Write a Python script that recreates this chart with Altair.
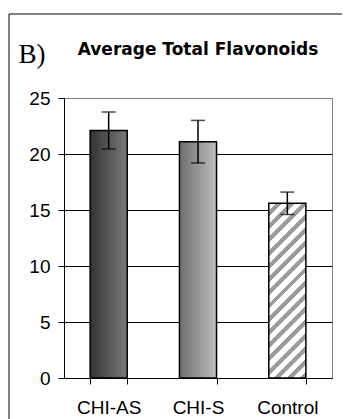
import altair as alt
import pandas as pd

# ---- data ----
categories = ["CHI-AS", "CHI-S", "Control"]
means = [22.1, 21.1, 15.6]
errors = [1.65, 1.9, 1.0]
y_ticks = [0, 5, 10, 15, 20, 25]
title_text = ["Average Total Flavonoids"]
panel_label = ["B)"]

df = pd.DataFrame({"cat": categories, "mean": means, "err": errors})
df["lo"] = df["mean"] - df["err"]
df["hi"] = df["mean"] + df["err"]

# ---- layout / style ----
W, H = 268, 280
Y_MAX = 25
PAD_INNER = 0.585
FONT = "Liberation Sans"

grad_dark = {"gradient": "linear", "x1": 0, "y1": 0, "x2": 1, "y2": 0,
             "stops": [{"offset": 0, "color": "#333333"}, {"offset": 1, "color": "#7a7a7a"}]}
grad_light = {"gradient": "linear", "x1": 0, "y1": 0, "x2": 1, "y2": 0,
              "stops": [{"offset": 0, "color": "#6e6e6e"}, {"offset": 1, "color": "#bdbdbd"}]}

# diagonal hatch built as a striped gradient (stripes at 45 degrees on screen)
bw = W / 3 * (1 - PAD_INNER)
bh = means[2] / Y_MAX * H
r = bw / bh
k = (bw + bh) / (bh * (1 + r * r))
period = 13.0
n = max(1, round((bw + bh) / period))
stops = []
for i in range(n):
    a = i / n
    m = (i + 0.55) / n
    b = (i + 1) / n
    stops += [{"offset": a, "color": "#ffffff"}, {"offset": m, "color": "#ffffff"},
              {"offset": m, "color": "#9c9c9c"}, {"offset": b, "color": "#9c9c9c"}]
grad_hatch = {"gradient": "linear", "x1": 0, "y1": 0, "x2": r * k, "y2": k, "stops": stops}

x_enc = alt.X("cat:N", sort=categories,
              scale=alt.Scale(paddingInner=PAD_INNER, paddingOuter=PAD_INNER / 2),
              axis=alt.Axis(title=None, labelAngle=0, tickBand="extent", tickSize=6,
                            labelPadding=14, labelFont=FONT, labelFontSize=19,
                            labelColor="black", domainColor="black", tickColor="black"))

y_axis = alt.Axis(title=None, values=y_ticks, tickSize=6, labelPadding=8,
                  labelFont=FONT, labelFontSize=19, labelColor="black",
                  domainColor="black", tickColor="black",
                  grid=True, gridWidth=1,
                  gridColor={"expr": "datum.value == 25 ? '#808080' : '#000000'"})
y_scale = alt.Scale(domain=[0, Y_MAX], nice=False)


def yenc(field):
    return alt.Y(f"{field}:Q", scale=y_scale, axis=y_axis)


base = alt.Chart(df)

bars = []
for cat, fill in zip(categories, [grad_dark, grad_light, grad_hatch]):
    bars.append(
        base.transform_filter(alt.datum.cat == cat)
        .mark_bar(fill=fill, stroke="black", strokeWidth=1.5)
        .encode(x=x_enc, y=yenc("mean"))
    )

err_rule = base.mark_rule(color="black", strokeWidth=1.5).encode(
    x=x_enc, y=yenc("lo"), y2="hi")
cap_hi = base.mark_tick(color="black", size=14, thickness=1.5).encode(x=x_enc, y=yenc("hi"))
cap_lo = base.mark_tick(color="black", size=14, thickness=1.5).encode(x=x_enc, y=yenc("lo"))

title = alt.Chart(pd.DataFrame({"t": title_text})).mark_text(
    font="DejaVu Sans", fontWeight="bold", fontSize=17, align="center",
    baseline="alphabetic", color="black"
).encode(x=alt.value(W / 2), y=alt.value(-43), text="t:N")

label = alt.Chart(pd.DataFrame({"t": panel_label})).mark_text(
    font="Liberation Serif", fontSize=27, align="left",
    baseline="alphabetic", color="black"
).encode(x=alt.value(-45.5), y=alt.value(-35), text="t:N")

frame_left = alt.Chart(pd.DataFrame({"t": [0]})).mark_rule(color="black", strokeWidth=1).encode(
    x=alt.value(-55), y=alt.value(-84), y2=alt.value(H + 45))
frame_top = alt.Chart(pd.DataFrame({"t": [0]})).mark_rule(color="black", strokeWidth=1).encode(
    x=alt.value(-55), x2=alt.value(W + 20), y=alt.value(-84))

chart = alt.layer(*bars, err_rule, cap_hi, cap_lo, title, label, frame_left, frame_top).properties(
    width=W, height=H,
    padding={"left": 56, "top": 90, "right": 10, "bottom": 41},
    autosize=alt.AutoSizeParams(type="none"),
    background="white",
).configure_view(stroke="#808080", strokeWidth=1)

chart.save("out.html", embed_options={"renderer": "svg", "actions": False})
